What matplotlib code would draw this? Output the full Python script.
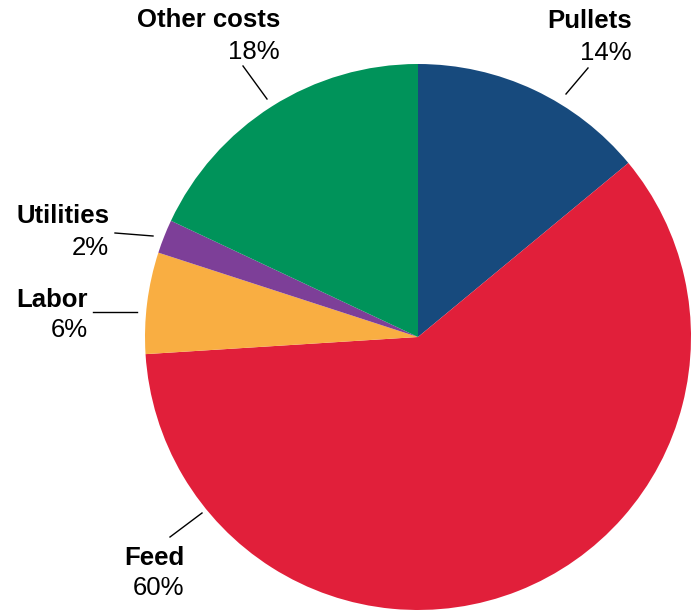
import matplotlib
matplotlib.use("Agg")
import matplotlib.pyplot as plt

categories = ["Pullets", "Feed", "Labor", "Utilities", "Other costs"]
values = [14, 60, 6, 2, 18]
colors = ["#174A7D", "#E11F3A", "#F9AE42", "#7D3F98", "#00935A"]

W, H = 699, 610
fig = plt.figure(figsize=(W / 100, H / 100), dpi=100)
ax = fig.add_axes([0, 0, 1, 1])

cx, cy, r = 418, H - 337, 273
ax.pie(values, colors=colors, startangle=90, counterclock=False,
       center=(cx, cy), radius=r, frame=True,
       wedgeprops=dict(linewidth=0))
ax.set_xlim(0, W)
ax.set_ylim(0, H)
ax.set_aspect("equal")
ax.axis("off")

# label layout: (right x, name baseline y, pct baseline y) in pixel coords, leader line endpoints
label_pos = {
    "Pullets": (632, 28, 60, (588, 68), (566, 94)),
    "Feed": (184, 565, 595, (170, 537), (202, 513)),
    "Labor": (88, 307, 337, (93, 312), (137, 312)),
    "Utilities": (109, 223, 255, (115, 233), (153, 236)),
    "Other costs": (280, 27, 59, (243, 66), (267, 99)),
}

fs = 18.5
for name, v in zip(categories, values):
    xr, yn, yp, p0, p1 = label_pos[name]
    ax.text(xr, H - yn, name, ha="right", va="baseline", fontsize=fs,
            fontweight="bold", family="Liberation Sans", color="black")
    ax.text(xr, H - yp, f"{v}%", ha="right", va="baseline", fontsize=fs,
            family="Liberation Sans", color="black")
    ax.plot([p0[0], p1[0]], [H - p0[1], H - p1[1]], color="black", lw=1.0)

fig.savefig("out.png", dpi=100)
